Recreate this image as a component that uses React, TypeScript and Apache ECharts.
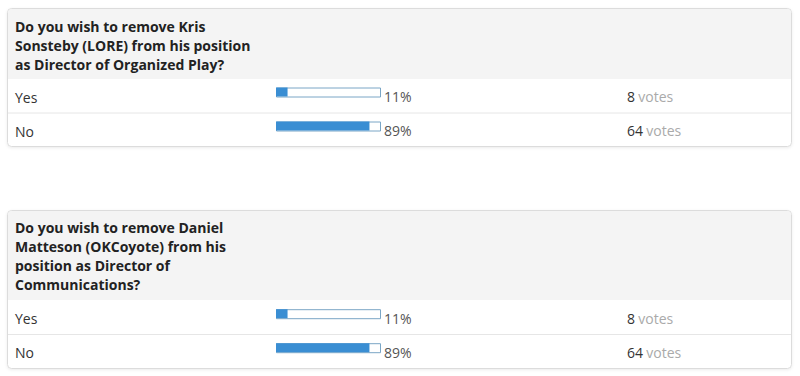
import React, { useEffect, useRef } from "react";
import * as echarts from "echarts";

const questions = [
  ["Do you wish to remove Kris", "Sonsteby (LORE) from his position", "as Director of Organized Play?"],
  ["Do you wish to remove Daniel", "Matteson (OKCoyote) from his", "position as Director of", "Communications?"],
];
const options = ["Yes", "No"];
const percents = [
  [11, 89],
  [11, 89],
];
const votes = [
  [8, 64],
  [8, 64],
];

const FONT = '"Open Sans", "Noto Sans", sans-serif';

export default function App() {
  const ref = useRef<HTMLDivElement>(null);
  useEffect(() => {
    const chart = echarts.init(ref.current!, null, { renderer: "svg" });
    const panels = [
      { top: 8.5, headerH: 70, bottom: 146.5, gridTop: 75, textY: 16.5 },
      { top: 210.5, headerH: 89, bottom: 368.5, gridTop: 296.7, textY: 218 },
    ];
    const graphics: any[] = [];
    panels.forEach((p, i) => {
      graphics.push({
        type: "rect",
        shape: { x: 7.5, y: p.top, width: 784, height: p.bottom - p.top, r: 4 },
        style: { fill: "#fff", stroke: "#dcdcdc", lineWidth: 1, shadowBlur: 3, shadowColor: "rgba(0,0,0,0.08)", shadowOffsetY: 1 },
        z: -10,
      });
      graphics.push({
        type: "rect",
        shape: { x: 8, y: p.top + 0.5, width: 783, height: p.headerH, r: [4, 4, 0, 0] },
        style: { fill: "#f4f4f4" },
        z: -9,
      });
      const rowH = (p.bottom - p.top - p.headerH) / 2;
      graphics.push({
        type: "line",
        shape: { x1: 8, y1: p.top + p.headerH + rowH + 0.5, x2: 791, y2: p.top + p.headerH + rowH + 0.5 },
        style: { stroke: "#e6e6e6", lineWidth: 1 },
        z: -8,
      });
      graphics.push({
        type: "text",
        x: 15,
        y: p.textY,
        style: {
          text: questions[i].join("\n"),
          font: `bold 14px ${FONT}`,
          fill: "#222",
          lineHeight: 19,
          verticalAlign: "top",
        },
        z: 5,
      });
    });

    const grids = panels.map((p) => ({ left: 276, width: 105, top: p.gridTop, height: 68 }));
    const xAxes = panels.map((_, i) => ({ type: "value", gridIndex: i, min: 0, max: 100, show: false }));
    const yAxes = panels.map((_, i) => ({
      type: "category",
      gridIndex: i,
      data: options,
      inverse: true,
      axisLine: { show: false },
      axisTick: { show: false },
      splitLine: { show: false },
      axisLabel: {
        align: "left",
        verticalAlign: "top",
        lineHeight: 10,
        margin: 261,
        fontSize: 14,
        fontFamily: FONT,
        color: "#333",
      },
    }));
    const series: any[] = [];
    panels.forEach((_, i) => {
      series.push({
        type: "bar",
        xAxisIndex: i,
        yAxisIndex: i,
        data: options.map(() => 100),
        barWidth: 10,
        barGap: "-100%",
        itemStyle: { color: "#fff", borderColor: "#7aa6c6", borderWidth: 1 },
        silent: true,
        label: {
          show: true,
          position: "right",
          distance: 3,
          offset: [0, 4],
          formatter: (prm: any) =>
            `{p|${percents[i][prm.dataIndex]}%}{n|${votes[i][prm.dataIndex]}} {v|votes}`,
          rich: {
            p: { width: 243, fontSize: 14, fontFamily: FONT, color: "#555" },
            n: { fontSize: 14, fontFamily: FONT, color: "#333" },
            v: { fontSize: 14, fontFamily: FONT, color: "#aaa" },
          },
        },
        z: 1,
      });
      series.push({
        type: "bar",
        xAxisIndex: i,
        yAxisIndex: i,
        data: percents[i],
        barWidth: 9,
        barGap: "-100%",
        itemStyle: { color: "#3a8ed3" },
        z: 2,
      });
    });

    chart.setOption({
      animation: false,
      backgroundColor: "#fff",
      grid: grids,
      xAxis: xAxes,
      yAxis: yAxes,
      series,
      graphic: graphics,
    });
    return () => chart.dispose();
  }, []);
  return <div ref={ref} style={{ width: 800, height: 376, position: "absolute", left: 0, top: 0 }} />;
}
